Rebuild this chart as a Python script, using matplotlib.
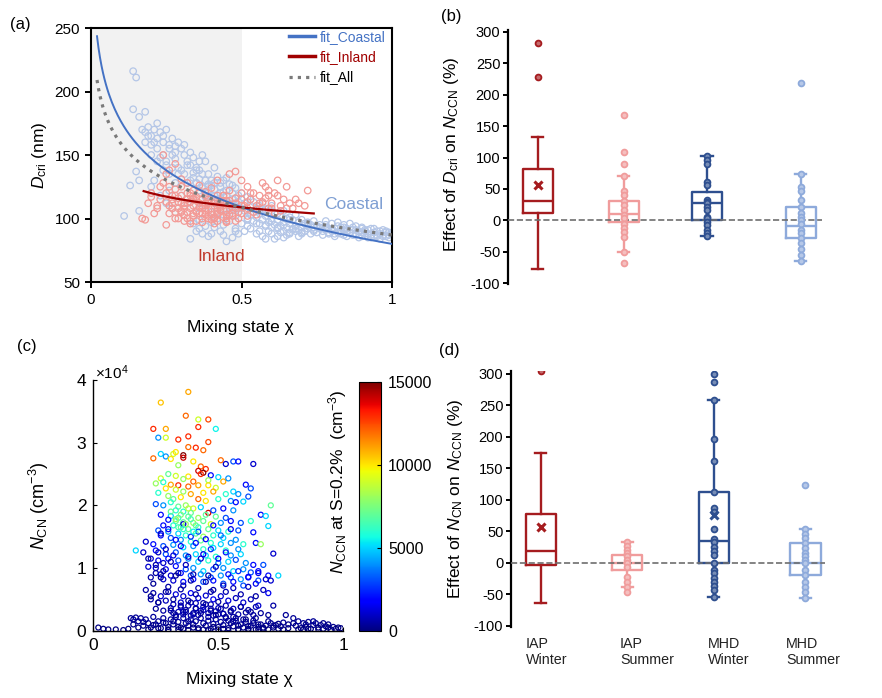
import numpy as np
import matplotlib
matplotlib.use('Agg')
import matplotlib.pyplot as plt

plt.rcParams['font.family'] = ['Liberation Sans', 'DejaVu Sans']
plt.rcParams['mathtext.fontset'] = 'custom'
plt.rcParams['mathtext.rm'] = 'Liberation Sans'
plt.rcParams['mathtext.it'] = 'Liberation Sans:italic'
plt.rcParams['axes.unicode_minus'] = False

# ---------------- panel (a): D_cri vs mixing state ----------------
coastal_x = [0.14, 0.15, 0.14, 0.16, 0.11, 0.15, 0.13, 0.16, 0.16, 0.18,
             0.17, 0.18, 0.19, 0.20, 0.21, 0.22, 0.18, 0.19, 0.20, 0.22,
             0.23, 0.24, 0.25, 0.26, 0.27, 0.28, 0.24, 0.25, 0.27, 0.29,
             0.30, 0.31, 0.32, 0.28, 0.29, 0.31, 0.33, 0.34, 0.30, 0.32,
             0.35, 0.36, 0.37, 0.38, 0.34, 0.35, 0.36, 0.38, 0.40, 0.39,
             0.41, 0.42, 0.43, 0.44, 0.45, 0.46, 0.47, 0.48, 0.49, 0.50,
             0.36, 0.37, 0.38, 0.39, 0.40, 0.41, 0.42, 0.43, 0.44, 0.45,
             0.46, 0.47, 0.48, 0.49, 0.50, 0.51, 0.52, 0.53, 0.54, 0.55,
             0.56, 0.57, 0.58, 0.59, 0.60, 0.61, 0.62, 0.63, 0.64, 0.65,
             0.66, 0.67, 0.68, 0.69, 0.70, 0.71, 0.72, 0.73, 0.74, 0.75,
             0.76, 0.77, 0.78, 0.79, 0.80, 0.81, 0.82, 0.83, 0.84, 0.85,
             0.86, 0.87, 0.88, 0.89, 0.90, 0.91, 0.92, 0.93, 0.94, 0.95,
             0.96, 0.97, 0.98, 0.99, 0.78, 0.80, 0.82, 0.84, 0.86, 0.88,
             0.33, 0.35, 0.37, 0.39, 0.41, 0.43, 0.45, 0.47, 0.49, 0.51,
             0.53, 0.55, 0.57, 0.59, 0.61, 0.63, 0.65, 0.67, 0.69, 0.71,
             0.34, 0.36, 0.38, 0.40, 0.42, 0.44, 0.46, 0.48, 0.50, 0.52,
             0.30, 0.32, 0.34, 0.36, 0.38, 0.40, 0.42, 0.44, 0.46, 0.48,
             0.50, 0.52, 0.54, 0.56, 0.58, 0.60, 0.62, 0.64, 0.66, 0.68,
             0.22, 0.24, 0.26, 0.28, 0.20, 0.23, 0.25, 0.27, 0.21, 0.26,
             0.70, 0.72, 0.74, 0.76, 0.78, 0.80, 0.83, 0.85, 0.88, 0.90,
             0.91, 0.93, 0.95, 0.97, 0.99, 0.92, 0.94, 0.96, 0.98, 1.00,
             0.55, 0.58, 0.60, 0.62, 0.64, 0.66, 0.68, 0.70, 0.72, 0.74,
             0.31, 0.33, 0.35, 0.37, 0.39, 0.41, 0.43, 0.45, 0.47, 0.49,
             0.32, 0.34, 0.36, 0.38, 0.40, 0.42, 0.44, 0.46, 0.48, 0.50,
             0.51, 0.53, 0.55, 0.57, 0.59, 0.61, 0.63, 0.65, 0.67, 0.69,
             0.52, 0.54, 0.56, 0.58, 0.60, 0.62, 0.64, 0.66, 0.68, 0.70,
             0.71, 0.73, 0.75, 0.77, 0.79, 0.81, 0.83, 0.85, 0.87, 0.89,
             0.72, 0.74, 0.76, 0.78, 0.80, 0.82, 0.84, 0.86, 0.88, 0.90,
             0.91, 0.93, 0.95, 0.97, 0.99, 0.90, 0.92, 0.94, 0.96, 0.98,
             0.20, 0.21, 0.22, 0.23, 0.24, 0.25, 0.26, 0.27, 0.28, 0.29,
             0.33, 0.35, 0.37, 0.39, 0.41, 0.43, 0.45, 0.47, 0.53, 0.57,
             0.60, 0.63, 0.66, 0.69, 0.72, 0.75, 0.78, 0.81, 0.84, 0.87,
             0.36, 0.40, 0.44, 0.48, 0.52, 0.56, 0.60, 0.62, 0.64, 0.58]
coastal_y = [216, 211, 186, 180, 102, 137, 126, 106, 130, 184,
             170, 168, 172, 165, 170, 163, 160, 165, 158, 175,
             168, 160, 170, 155, 163, 157, 150, 145, 150, 160,
             155, 150, 145, 147, 140, 158, 152, 148, 138, 142,
             140, 145, 135, 130, 132, 128, 138, 145, 130, 125,
             128, 133, 125, 130, 122, 127, 120, 124, 118, 115,
             122, 125, 120, 127, 118, 123, 115, 120, 113, 118,
             112, 115, 110, 113, 108, 112, 106, 110, 105, 108,
             104, 107, 102, 105, 100, 104, 99, 102, 97, 100,
             96, 99, 94, 97, 93, 96, 92, 95, 91, 94,
             93, 90, 95, 89, 92, 88, 94, 90, 87, 92,
             89, 93, 87, 90, 86, 91, 88, 85, 89, 87,
             88, 86, 89, 87, 98, 96, 97, 95, 96, 94,
             84, 90, 88, 86, 93, 90, 82, 85, 88, 90,
             92, 88, 86, 90, 84, 89, 87, 91, 86, 90,
             96, 99, 94, 97, 100, 95, 98, 92, 96, 99,
             118, 112, 115, 108, 110, 105, 108, 103, 106, 102,
             120, 117, 113, 110, 107, 110, 104, 106, 101, 103,
             145, 138, 135, 128, 125, 118, 112, 108, 130, 122,
             99, 97, 98, 95, 92, 91, 93, 90, 91, 92,
             90, 92, 90, 91, 89, 85, 86, 84, 86, 88,
             96, 94, 98, 93, 95, 88, 92, 89, 94, 90,
             135, 130, 128, 124, 122, 118, 116, 113, 111, 108,
             128, 136, 131, 117, 126, 112, 121, 109, 116, 104,
             106, 103, 101, 99, 97, 95, 94, 93, 92, 91,
             100, 98, 96, 95, 93, 92, 90, 89, 90, 88,
             90, 88, 89, 87, 88, 86, 88, 86, 87, 85,
             95, 93, 92, 91, 90, 89, 91, 89, 88, 89,
             88, 87, 86, 87, 85, 93, 91, 92, 90, 90,
             150, 160, 155, 148, 165, 142, 158, 140, 152, 135,
             142, 138, 150, 135, 140, 128, 132, 126, 115, 112,
             106, 102, 99, 97, 96, 94, 93, 92, 93, 91,
             92, 88, 87, 90, 94, 90, 88, 86, 85, 84]

inland_x = [0.17, 0.19, 0.20, 0.22, 0.23, 0.24, 0.25, 0.25, 0.27, 0.28,
            0.25, 0.26, 0.27, 0.28, 0.29, 0.30, 0.31, 0.32, 0.33, 0.34,
            0.26, 0.27, 0.28, 0.29, 0.30, 0.31, 0.32, 0.33, 0.34, 0.35,
            0.35, 0.36, 0.37, 0.38, 0.39, 0.40, 0.41, 0.42, 0.43, 0.44,
            0.36, 0.37, 0.38, 0.39, 0.40, 0.41, 0.42, 0.43, 0.44, 0.45,
            0.45, 0.46, 0.47, 0.48, 0.49, 0.50, 0.51, 0.52, 0.53, 0.54,
            0.46, 0.48, 0.50, 0.52, 0.54, 0.56, 0.58, 0.60, 0.62, 0.64,
            0.55, 0.57, 0.59, 0.61, 0.63, 0.65, 0.67, 0.69, 0.71, 0.72,
            0.30, 0.32, 0.34, 0.36, 0.38, 0.40, 0.42, 0.44, 0.46, 0.48,
            0.29, 0.31, 0.33, 0.35, 0.37, 0.39, 0.41, 0.43, 0.45, 0.47,
            0.21, 0.23, 0.24, 0.26, 0.28, 0.30, 0.57, 0.59, 0.61, 0.66,
            0.18, 0.20, 0.22, 0.25, 0.48, 0.50, 0.52, 0.55, 0.58, 0.63,
            0.31, 0.33, 0.35, 0.37, 0.39, 0.41, 0.43, 0.45, 0.47, 0.49,
            0.32, 0.34, 0.36, 0.38, 0.40, 0.42, 0.44, 0.46, 0.48, 0.50,
            0.27, 0.29, 0.31, 0.33, 0.35, 0.37, 0.39, 0.41, 0.43, 0.45,
            0.28, 0.30, 0.32, 0.34, 0.36, 0.38, 0.40, 0.42, 0.44, 0.46,
            0.50, 0.53, 0.56, 0.59, 0.62, 0.65, 0.68, 0.52, 0.55, 0.60,
            0.26, 0.30, 0.34, 0.38, 0.42, 0.46, 0.33, 0.37, 0.41, 0.45]
inland_y = [100, 112, 120, 108, 125, 150, 113, 95, 118, 105,
            120, 110, 115, 123, 108, 118, 112, 105, 120, 110,
            104, 108, 100, 113, 105, 98, 115, 108, 102, 117,
            105, 112, 100, 108, 115, 103, 110, 98, 106, 112,
            120, 97, 103, 100, 108, 96, 104, 110, 101, 106,
            100, 108, 102, 112, 105, 130, 110, 125, 115, 105,
            135, 137, 120, 102, 120, 118, 125, 112, 130, 115,
            110, 113, 108, 120, 106, 125, 108, 112, 110, 122,
            125, 128, 122, 126, 118, 124, 130, 118, 122, 116,
            100, 103, 96, 98, 110, 106, 100, 114, 98, 104,
            104, 115, 128, 138, 143, 131, 128, 118, 104, 112,
            99, 117, 110, 135, 108, 104, 113, 107, 116, 110,
            108, 113, 106, 115, 102, 112, 107, 103, 109, 100,
            100, 104, 109, 112, 99, 106, 114, 103, 98, 110,
            112, 116, 110, 118, 114, 108, 112, 115, 109, 114,
            118, 106, 120, 115, 104, 121, 113, 103, 118, 111,
            115, 120, 112, 122, 118, 108, 115, 108, 103, 108,
            125, 112, 116, 106, 118, 114, 98, 104, 101, 97]

# logarithmic fits  y = a + b*ln(x), with the x range of each fit
fit_coastal = [80.0, -41.8, 0.02, 1.0]
fit_inland = [100.3, -12.2, 0.175, 0.74]
fit_all = [87.0, -31.2, 0.02, 1.0]

# ---------------- panel (c): N_CN (x1e4) vs mixing state, colour = N_CCN (x1000) ----------------
chi_c = [0.38, 0.27, 0.37, 0.42, 0.46, 0.42, 0.49, 0.24, 0.29, 0.26,
         0.29, 0.38, 0.34, 0.46, 0.41, 0.38, 0.44, 0.27, 0.32, 0.33,
         0.36, 0.36, 0.24, 0.29, 0.31, 0.40, 0.51, 0.56, 0.58, 0.53,
         0.64, 0.34, 0.43, 0.45, 0.42, 0.44, 0.43, 0.47, 0.30, 0.33,
         0.38, 0.27, 0.36, 0.50, 0.40, 0.46, 0.52, 0.54, 0.28, 0.25,
         0.31, 0.34, 0.38, 0.42, 0.46, 0.49, 0.61, 0.63, 0.29, 0.33,
         0.36, 0.44, 0.48, 0.53, 0.56, 0.58, 0.62, 0.26, 0.30, 0.32,
         0.35, 0.39, 0.42, 0.45, 0.50, 0.55, 0.60, 0.57, 0.71, 0.25,
         0.28, 0.31, 0.34, 0.37, 0.40, 0.43, 0.46, 0.48, 0.52, 0.56,
         0.33, 0.36, 0.39, 0.45, 0.27, 0.31, 0.34, 0.38, 0.42, 0.49,
         0.53, 0.67, 0.69, 0.30, 0.33, 0.36, 0.40, 0.44, 0.47, 0.51,
         0.55, 0.59, 0.63, 0.70, 0.28, 0.32, 0.35, 0.38, 0.42, 0.46,
         0.50, 0.54, 0.58, 0.64, 0.26, 0.30, 0.34, 0.37, 0.41, 0.44,
         0.48, 0.52, 0.57, 0.27, 0.31, 0.35, 0.39, 0.43, 0.47, 0.51,
         0.55, 0.60, 0.65, 0.67, 0.21, 0.24, 0.28, 0.32, 0.36, 0.40,
         0.44, 0.48, 0.53, 0.58, 0.17, 0.20, 0.25, 0.29, 0.33, 0.37,
         0.41, 0.45, 0.49, 0.55, 0.59, 0.72, 0.23, 0.26, 0.30, 0.34,
         0.38, 0.42, 0.46, 0.50, 0.54, 0.57, 0.61, 0.64, 0.68, 0.28,
         0.22, 0.25, 0.29, 0.33, 0.37, 0.40, 0.44, 0.48, 0.52, 0.56,
         0.60, 0.63, 0.66, 0.70, 0.74, 0.25, 0.27, 0.31, 0.35, 0.39,
         0.43, 0.47, 0.51, 0.55, 0.59, 0.62, 0.66, 0.69, 0.23, 0.28,
         0.32, 0.36, 0.40, 0.44, 0.48, 0.52, 0.56, 0.60, 0.65, 0.71,
         0.21, 0.24, 0.27, 0.30, 0.33, 0.36, 0.39, 0.42, 0.45, 0.48,
         0.51, 0.54, 0.57, 0.60, 0.63, 0.66, 0.70, 0.23, 0.26, 0.29,
         0.32, 0.35, 0.38, 0.41, 0.44, 0.47, 0.50, 0.53, 0.56, 0.59,
         0.62, 0.65, 0.72, 0.25, 0.28, 0.31, 0.34, 0.37, 0.40, 0.43,
         0.46, 0.49, 0.52, 0.55, 0.58, 0.61, 0.64, 0.77, 0.36, 0.39,
         0.02, 0.04, 0.06, 0.09, 0.12, 0.14, 0.15, 0.16, 0.17, 0.18,
         0.19, 0.20, 0.21, 0.22, 0.23, 0.24, 0.25, 0.26, 0.27, 0.28,
         0.29, 0.30, 0.31, 0.32, 0.33, 0.34, 0.35, 0.36, 0.37, 0.38,
         0.39, 0.40, 0.41, 0.42, 0.43, 0.44, 0.45, 0.46, 0.47, 0.48,
         0.49, 0.50, 0.51, 0.52, 0.53, 0.54, 0.55, 0.56, 0.57, 0.58,
         0.59, 0.60, 0.61, 0.62, 0.63, 0.64, 0.65, 0.66, 0.67, 0.68,
         0.69, 0.70, 0.71, 0.72, 0.73, 0.74, 0.75, 0.76, 0.78, 0.80,
         0.81, 0.82, 0.83, 0.84, 0.85, 0.86, 0.87, 0.88, 0.89, 0.90,
         0.91, 0.92, 0.93, 0.94, 0.95, 0.96, 0.97, 0.98, 0.99, 0.85,
         0.30, 0.34, 0.38, 0.42, 0.46, 0.50, 0.54, 0.58, 0.62, 0.66,
         0.32, 0.36, 0.40, 0.44, 0.48, 0.52, 0.56, 0.35, 0.41, 0.47,
         0.22, 0.25, 0.28, 0.31, 0.34, 0.37, 0.40, 0.43, 0.46, 0.49,
         0.24, 0.27, 0.30, 0.33, 0.36, 0.39, 0.42, 0.45, 0.48, 0.52,
         0.26, 0.29, 0.32, 0.35, 0.38, 0.41, 0.44, 0.47, 0.50, 0.53,
         0.27, 0.30, 0.33, 0.36, 0.39, 0.42, 0.45, 0.48, 0.51, 0.55,
         0.23, 0.26, 0.29, 0.32, 0.35, 0.38, 0.41, 0.44, 0.47, 0.50,
         0.53, 0.56, 0.59, 0.62, 0.65, 0.68, 0.54, 0.58, 0.62, 0.66,
         0.16, 0.18, 0.20, 0.22, 0.24, 0.26, 0.28, 0.30, 0.32, 0.34,
         0.36, 0.38, 0.40, 0.42, 0.44, 0.46, 0.48, 0.50, 0.52, 0.54,
         0.56, 0.58, 0.60, 0.62, 0.64, 0.66, 0.68, 0.70, 0.72, 0.74,
         0.76, 0.78, 0.80, 0.82, 0.84, 0.86, 0.88, 0.90, 0.92, 0.94,
         0.31, 0.33, 0.35, 0.37, 0.39, 0.41, 0.43, 0.45, 0.47, 0.49,
         0.51, 0.53, 0.55, 0.57, 0.59, 0.61, 0.63, 0.65, 0.67, 0.70,
         0.31, 0.33, 0.35, 0.37, 0.39, 0.41, 0.36, 0.38, 0.40, 0.34]
ncn_c = [3.81, 3.64, 3.43, 3.37, 3.37, 3.25, 3.22, 3.22, 3.22, 3.08,
         3.08, 3.10, 3.05, 3.01, 2.92, 2.93, 2.88, 2.82, 2.82, 2.85,
         2.80, 2.76, 2.75, 2.78, 2.74, 2.70, 2.72, 2.70, 2.70, 2.66,
         2.66, 2.64, 2.62, 2.58, 2.55, 2.52, 2.50, 2.48, 2.50, 2.47,
         2.46, 2.43, 2.42, 2.45, 2.38, 2.40, 2.38, 2.43, 2.37, 2.35,
         2.33, 2.32, 2.30, 2.32, 2.32, 2.28, 2.33, 2.27, 2.27, 2.25,
         2.22, 2.20, 2.22, 2.18, 2.22, 2.18, 2.14, 2.20, 2.15, 2.10,
         2.13, 2.18, 2.10, 2.07, 2.10, 2.07, 2.06, 2.05, 2.00, 2.02,
         2.00, 2.05, 1.98, 2.00, 1.95, 1.97, 1.88, 1.92, 1.95, 1.92,
         1.92, 1.90, 1.88, 1.85, 1.85, 1.83, 1.80, 1.82, 1.80, 1.82,
         1.80, 1.85, 1.83, 1.77, 1.75, 1.73, 1.72, 1.75, 1.70, 1.72,
         1.75, 1.72, 1.75, 1.67, 1.68, 1.68, 1.65, 1.62, 1.65, 1.62,
         1.60, 1.58, 1.60, 1.57, 1.60, 1.58, 1.55, 1.52, 1.55, 1.50,
         1.52, 1.48, 1.45, 1.52, 1.48, 1.45, 1.42, 1.44, 1.40, 1.38,
         1.40, 1.38, 1.40, 1.38, 1.42, 1.38, 1.35, 1.37, 1.33, 1.35,
         1.30, 1.32, 1.28, 1.30, 1.28, 1.25, 1.28, 1.22, 1.25, 1.20,
         1.22, 1.20, 1.18, 1.20, 1.22, 1.23, 1.15, 1.12, 1.15, 1.12,
         1.15, 1.10, 1.12, 1.08, 1.10, 1.13, 1.08, 1.05, 1.05, 1.08,
         1.02, 1.00, 0.98, 1.03, 0.98, 1.00, 0.95, 0.98, 1.00, 0.95,
         0.98, 0.93, 0.95, 0.88, 0.88, 0.92, 0.90, 0.88, 0.92, 0.88,
         0.90, 0.85, 0.88, 0.85, 0.82, 0.86, 0.80, 0.82, 0.85, 0.82,
         0.80, 0.78, 0.82, 0.78, 0.80, 0.75, 0.78, 0.72, 0.75, 0.80,
         0.65, 0.60, 0.55, 0.62, 0.58, 0.55, 0.60, 0.52, 0.56, 0.50,
         0.55, 0.48, 0.52, 0.45, 0.50, 0.40, 0.60, 0.50, 0.45, 0.48,
         0.42, 0.45, 0.40, 0.44, 0.38, 0.42, 0.36, 0.40, 0.35, 0.38,
         0.33, 0.38, 0.40, 0.35, 0.32, 0.36, 0.30, 0.33, 0.28, 0.32,
         0.28, 0.31, 0.27, 0.30, 0.26, 0.29, 0.25, 0.25, 0.26, 0.24,
         0.05, 0.03, 0.02, 0.02, 0.01, 0.03, 0.20, 0.18, 0.21, 0.15,
         0.20, 0.08, 0.18, 0.12, 0.05, 0.22, 0.10, 0.15, 0.04, 0.20,
         0.12, 0.06, 0.18, 0.10, 0.22, 0.14, 0.05, 0.20, 0.12, 0.08,
         0.18, 0.10, 0.15, 0.04, 0.20, 0.12, 0.08, 0.16, 0.03, 0.11,
         0.18, 0.06, 0.14, 0.09, 0.20, 0.04, 0.12, 0.07, 0.16, 0.02,
         0.10, 0.05, 0.14, 0.03, 0.08, 0.12, 0.02, 0.06, 0.10, 0.03,
         0.08, 0.02, 0.12, 0.05, 0.09, 0.03, 0.07, 0.13, 0.04, 0.20,
         0.08, 0.15, 0.04, 0.12, 0.06, 0.14, 0.03, 0.09, 0.12, 0.05,
         0.09, 0.03, 0.07, 0.05, 0.02, 0.06, 0.03, 0.05, 0.04, 0.10,
         0.01, 0.02, 0.01, 0.02, 0.01, 0.02, 0.01, 0.02, 0.01, 0.02,
         0.28, 0.30, 0.26, 0.33, 0.24, 0.27, 0.22, 0.38, 0.36, 0.35,
         1.15, 1.05, 0.95, 1.10, 0.92, 1.05, 0.90, 1.15, 0.88, 1.02,
         0.75, 0.85, 0.70, 0.88, 0.72, 0.80, 0.68, 0.78, 0.65, 0.72,
         1.25, 1.30, 1.20, 1.35, 1.18, 1.40, 1.22, 1.30, 1.15, 1.25,
         1.55, 1.62, 1.45, 1.70, 1.50, 1.58, 1.46, 1.68, 1.52, 1.62,
         0.55, 0.45, 0.62, 0.50, 0.66, 0.48, 0.58, 0.44, 0.62, 0.46,
         0.62, 0.68, 0.58, 0.70, 0.55, 0.65, 0.90, 0.95, 0.85, 0.92,
         0.10, 0.05, 0.14, 0.02, 0.09, 0.04, 0.13, 0.02, 0.15, 0.06,
         0.03, 0.15, 0.05, 0.25, 0.02, 0.22, 0.06, 0.26, 0.03, 0.16,
         0.15, 0.08, 0.18, 0.07, 0.16, 0.10, 0.05, 0.15, 0.08, 0.11,
         0.02, 0.10, 0.12, 0.02, 0.02, 0.03, 0.15, 0.02, 0.12, 0.10,
         0.32, 0.25, 0.40, 0.30, 0.45, 0.35, 0.28, 0.42, 0.32, 0.25,
         0.35, 0.22, 0.32, 0.20, 0.38, 0.18, 0.30, 0.20, 0.28, 0.25,
         1.90, 1.78, 1.85, 1.70, 1.78, 1.68, 1.62, 1.95, 1.58, 1.65]
nccn_c = [11, 10.5, 12, 9, 12.5, 13, 5.5, 13, 11, 4,
          9, 13, 13, 12.5, 13, 12, 12, 5, 9, 10,
          15, 14, 12, 4, 10, 10, 12, 3, 2, 1,
          1, 8, 12, 13, 14, 15, 13, 2, 7, 9,
          10, 9, 8, 5, 12, 8, 11, 4, 6, 8,
          11, 13, 12, 11, 10, 9, 2, 3, 10, 9,
          8, 10, 11, 6, 5, 4, 3, 6, 8, 7,
          10, 11, 12, 10, 6, 4, 5, 2, 7, 3,
          4, 6, 7, 8, 9, 5, 14, 3, 2, 4,
          6, 6, 7, 7, 2, 5, 6, 7, 8, 7,
          3, 2, 5, 2, 7, 7, 8, 7, 9, 4,
          2, 3, 6, 5, 2, 6, 7, 7, 6, 7,
          5, 6, 3, 2, 3, 4, 5, 6, 7, 8,
          6, 5, 4, 2, 3, 4, 6, 7, 6, 5,
          4, 6, 2, 8, 1, 2, 3, 4, 5, 4,
          6, 5, 6, 4, 5, 1, 2, 3, 3, 4,
          5, 5, 6, 4, 5, 1, 1, 1.5, 2, 3,
          4, 5, 6, 4, 5, 3, 4, 2, 3, 1,
          1, 1, 1.5, 2, 3, 4, 5, 3, 4, 5,
          4, 3, 2, 2, 5, 0.5, 1, 1, 2, 3,
          4, 3, 4, 3, 4, 2, 3, 1, 0.5, 1,
          1, 2, 2, 3, 2, 3, 2, 3, 1.5, 1,
          0.5, 0.5, 1, 0.8, 1.2, 1, 1.5, 1.2, 1, 1.5,
          1, 1.2, 0.8, 1, 0.8, 1, 1.5, 0.5, 0.5, 0.8,
          0.8, 1, 0.6, 0.8, 1, 0.7, 0.9, 0.6, 0.8, 0.6,
          0.5, 0.7, 0.5, 0.4, 0.5, 0.6, 0.7, 0.5, 0.6, 0.8,
          0.6, 0.5, 0.7, 0.5, 0.6, 0.4, 0.5, 0.3, 0.7, 0.6,
          0.1, 0.1, 0.1, 0.1, 0.1, 0.1, 0.3, 0.3, 0.3, 0.3,
          0.3, 0.2, 0.4, 0.3, 0.2, 0.4, 0.3, 0.3, 0.2, 0.4,
          0.3, 0.2, 0.4, 0.3, 0.5, 0.4, 0.2, 0.5, 0.4, 0.3,
          0.5, 0.3, 0.4, 0.2, 0.5, 0.3, 0.3, 0.4, 0.2, 0.3,
          0.5, 0.2, 0.4, 0.3, 0.5, 0.2, 0.3, 0.2, 0.4, 0.1,
          0.3, 0.2, 0.3, 0.1, 0.2, 0.3, 0.1, 0.2, 0.3, 0.1,
          0.2, 0.1, 0.3, 0.1, 0.2, 0.1, 0.2, 0.3, 0.1, 0.3,
          0.2, 0.3, 0.1, 0.3, 0.2, 0.3, 0.1, 0.2, 0.3, 0.1,
          0.2, 0.1, 0.2, 0.1, 0.1, 0.2, 0.1, 0.1, 0.1, 0.2,
          0.1, 0.1, 0.1, 0.1, 0.1, 0.1, 0.1, 0.1, 0.1, 0.1,
          0.6, 0.7, 0.6, 0.8, 0.5, 0.6, 0.5, 0.8, 0.9, 0.7,
          0.5, 0.6, 0.4, 0.7, 0.5, 0.8, 0.6, 1.0, 0.5, 0.9,
          0.3, 0.4, 0.5, 0.4, 0.6, 0.5, 0.7, 0.6, 0.5, 0.8,
          0.8, 1.0, 1.2, 1.5, 1.0, 2.0, 1.5, 2.5, 1.8, 2.2,
          1.0, 1.5, 2.0, 1.2, 2.5, 3.0, 1.8, 2.0, 3.5, 1.5,
          0.3, 0.3, 0.4, 0.4, 0.5, 0.4, 0.5, 0.5, 0.6, 0.5,
          0.7, 0.8, 0.6, 0.9, 0.5, 0.8, 2.0, 2.5, 1.8, 1.5,
          0.2, 0.1, 0.3, 0.1, 0.2, 0.1, 0.3, 0.1, 0.3, 0.1,
          0.1, 0.3, 0.1, 0.5, 0.1, 0.5, 0.1, 0.5, 0.1, 0.3,
          0.3, 0.2, 0.4, 0.2, 0.3, 0.2, 0.1, 0.3, 0.2, 0.2,
          0.1, 0.2, 0.2, 0.1, 0.1, 0.1, 0.3, 0.1, 0.2, 0.2,
          0.4, 0.3, 0.5, 0.4, 0.6, 0.4, 0.3, 0.5, 0.4, 0.3,
          0.4, 0.3, 0.4, 0.3, 0.5, 0.2, 0.4, 0.3, 0.4, 0.3,
          7, 8, 7.5, 8, 6.5, 7, 6, 8.5, 5.5, 6.5]

# ---------------- panels (b) and (d): box plots ----------------
groups = ['IAP\nWinter', 'IAP\nSummer', 'MHD\nWinter', 'MHD\nSummer']
box_colors = ['#a51c1f', '#f09c9c', '#2e4f8f', '#8eaadb']

# (b) effect of D_cri on N_CCN (%)
b_lo = [-77, -50, -25, -65]
b_q1 = [12, -3, 0, -28]
b_med = [31, 10, 28, -9]
b_q3 = [82, 31, 45, 21]
b_hi = [133, 71, 103, 74]
b_mean = [56, np.nan, np.nan, np.nan]
b_pts = [[283, 229],
         [168, 108, 89, 71, 47, 41, 31, 24, 17, 9, 3, -6, -13, -19, -26, -50, -68],
         [103, 96, 90, 61, 56, 32, 29, 27, 21, 16, 5, 3, -3, -8, -15, -21, -25],
         [219, 74, 53, 47, 33, 21, 12, 6, 0, -6, -15, -21, -28, -36, -45, -56, -65]]

# (d) effect of N_CN on N_CCN (%)
d_lo = [-64, -38, -55, -56]
d_q1 = [-4, -11, 0, -20]
d_med = [19, 0, 34, 0]
d_q3 = [78, 12, 112, 32]
d_hi = [174, 33, 258, 54]
d_mean = [57, np.nan, 76, np.nan]
d_pts = [[305],
         [33, 26, 21, 16, 10, 4, -1, -7, -22, -31, -38, -47],
         [300, 287, 258, 197, 162, 112, 87, 81, 53, 37, 33, 25, 19, 12, 0, -11,
          -16, -24, -31, -37, -43, -55],
         [123, 54, 46, 39, 31, 23, 16, 10, 4, -1, -11, -20, -30, -38, -46, -56]]


def lighter(c, f):
    rgb = np.array(matplotlib.colors.to_rgb(c))
    return tuple(rgb + (1 - rgb) * f)


def box_panel(ax, pos, lo, q1, med, q3, hi, mean, pts, x0, xdash):
    for i in range(len(pos)):
        col = box_colors[i]
        st = dict(whislo=lo[i], q1=q1[i], med=med[i], q3=q3[i], whishi=hi[i], fliers=[])
        ax.bxp([st], positions=[pos[i]], widths=0.35, capwidths=0.13,
               showfliers=False, manage_ticks=False,
               boxprops=dict(color=col, lw=1.7),
               medianprops=dict(color=col, lw=1.7),
               whiskerprops=dict(color=col, lw=1.7),
               capprops=dict(color=col, lw=1.7))
        ax.plot([pos[i]] * len(pts[i]), pts[i], 'o', ms=4.2, mfc=lighter(col, 0.35),
                mec=col, mew=1.3, zorder=4)
        if not np.isnan(mean[i]):
            ax.plot(pos[i], mean[i], 'x', ms=6, mew=2.2, color=col, zorder=5)
    ax.plot([x0, xdash], [0, 0], ls='--', color='#6e6e6e', lw=1.2, zorder=3)
    for s in ['top', 'right', 'bottom']:
        ax.spines[s].set_visible(False)
    ax.spines['left'].set_linewidth(1.6)
    ax.set_xticks([])
    ax.set_yticks(range(-100, 301, 50))
    ax.tick_params(axis='y', labelsize=10.5, width=1.4, length=3.5, pad=2)


W, H = 882, 698


def rect(l, t, r, b):
    return [l / W, 1 - b / H, (r - l) / W, (b - t) / H]


fig = plt.figure(figsize=(8.82, 6.98), dpi=100)

# ---- (a)
ax = fig.add_axes(rect(91, 28, 392, 282))
ax.axvspan(0, 0.5, color='#f2f2f2', lw=0, zorder=0)
ax.scatter(coastal_x, coastal_y, s=22, facecolors='none', edgecolors='#b4c6e7',
           linewidths=0.9, zorder=2)
ax.scatter(inland_x, inland_y, s=22, facecolors='none', edgecolors='#f39a96',
           linewidths=0.9, zorder=2)
for fit, col, ls, lw, lab in [(fit_coastal, '#4472c4', '-', 1.4, 'fit_Coastal'),
                              (fit_inland, '#a00000', '-', 1.6, 'fit_Inland'),
                              (fit_all, '#7a7a7a', (0, (1, 1.6)), 2.3, 'fit_All')]:
    xx = np.linspace(fit[2], fit[3], 200)
    ax.plot(xx, fit[0] + fit[1] * np.log(xx), color=col, ls=ls, lw=lw, label=lab, zorder=3)
leg = ax.legend(loc='upper left', bbox_to_anchor=(0.63, 1.025), frameon=False, fontsize=10,
                handlelength=1.9, handletextpad=0.35, labelspacing=0.45, borderaxespad=0.2)
for t, c in zip(leg.get_texts(), ['#4472c4', '#a00000', 'black']):
    t.set_color(c)
for h in leg.get_lines()[:2]:
    h.set_linewidth(2.5)
ax.text(0.873, 111, 'Coastal', color='#7f9fd3', fontsize=12.5, ha='center', va='center')
ax.text(0.431, 70, 'Inland', color='#c0392b', fontsize=12.5, ha='center', va='center')
ax.set_xlim(0, 1)
ax.set_ylim(50, 250)
ax.set_xticks([0, 0.5, 1])
ax.set_xticklabels(['0', '0.5', '1'])
ax.set_yticks(range(50, 251, 50))
for s in ax.spines.values():
    s.set_linewidth(1.5)
ax.tick_params(labelsize=11, width=1.4, length=4, pad=4)
ax.set_xlabel('Mixing state χ', fontsize=12.5)
ax.xaxis.set_label_coords(0.495, -0.15)
ax.set_ylabel(r'$D_{\rm cri}$ (nm)', fontsize=12.5)
ax.yaxis.set_label_coords((49 - 91) / 301, 0.5)

# ---- (b)
axb = fig.add_axes(rect(508, 30.1, 870, 284.3))
box_panel(axb, [1.0, 2.0, 2.97, 4.06], b_lo, b_q1, b_med, b_q3, b_hi, b_mean, b_pts,
          0.655, 4.31)
axb.set_xlim(0.655, 4.865)
axb.set_ylim(-102, 303)
axb.set_ylabel(r'Effect of $D_{\rm cri}$ on $N_{\rm CCN}$ (%)', fontsize=12.5)
axb.yaxis.set_label_coords((461 - 508) / 362, 0.51)

# ---- (d)
axd = fig.add_axes(rect(511, 371.2, 870, 627))
box_panel(axd, [1.0, 2.0, 3.0, 4.06], d_lo, d_q1, d_med, d_q3, d_hi, d_mean, d_pts,
          0.657, 4.29)
axd.set_xlim(0.657, 4.807)
axd.set_ylim(-102, 304)
axd.set_ylabel(r'Effect of $N_{\rm CN}$ on $N_{\rm CCN}$ (%)', fontsize=12.5)
axd.yaxis.set_label_coords((465 - 511) / 359, 0.5)
for xl, g in zip([0.827, 1.917, 2.93, 3.84], groups):
    axd.text(xl, -118, g, ha='left', va='top', fontsize=10.3, color='#222222',
             linespacing=1.2, clip_on=False)

# ---- (c)
axc = fig.add_axes(rect(93.3, 380, 343.3, 630.7))
norm = matplotlib.colors.Normalize(vmin=0, vmax=15000)
edge_cols = plt.cm.jet(norm(np.array(nccn_c) * 1000))
axc.scatter(chi_c, ncn_c, s=13, facecolors='none', edgecolors=edge_cols, linewidths=0.9)
axc.set_xlim(0, 1)
axc.set_ylim(0, 4)
axc.set_xticks([0, 0.5, 1])
axc.set_xticklabels(['0', '0.5', '1'])
axc.set_yticks([0, 1, 2, 3, 4])
for s in ['top', 'right']:
    axc.spines[s].set_visible(False)
for s in ['left', 'bottom']:
    axc.spines[s].set_linewidth(1.0)
axc.tick_params(direction='in', labelsize=12.5, length=3, pad=5)
axc.set_xlabel('Mixing state χ', fontsize=12.5)
axc.xaxis.set_label_coords(0.585, -0.165)
axc.set_ylabel(r'$N_{\rm CN}$ (cm$^{-3}$)', fontsize=13)
axc.yaxis.set_label_coords((51 - 93.3) / 250, 0.5)
fig.text(95 / W, 1 - 373 / H, r'×10$^{4}$', fontsize=11, ha='left', va='center')

cax = fig.add_axes(rect(359, 381.7, 381, 630.7))
sm = matplotlib.cm.ScalarMappable(norm=norm, cmap='jet')
cb = fig.colorbar(sm, cax=cax)
cb.set_ticks([0, 5000, 10000, 15000])
cb.outline.set_linewidth(0.8)
cax.tick_params(direction='in', labelsize=11.5, length=3, pad=5)
cb.set_label(r'$N_{\rm CCN}$ at S=0.2%  (cm$^{-3}$)', fontsize=12.5)
cax.yaxis.set_label_position('left')
cax.yaxis.set_label_coords((349 - 359) / 22, 0.6)

# panel letters
for lab, x, y in [('(a)', 20, 25), ('(b)', 451, 17), ('(c)', 27, 347), ('(d)', 449, 350)]:
    fig.text(x / W, 1 - y / H, lab, fontsize=12, ha='center', va='center')

fig.savefig('out.png', dpi=100)
